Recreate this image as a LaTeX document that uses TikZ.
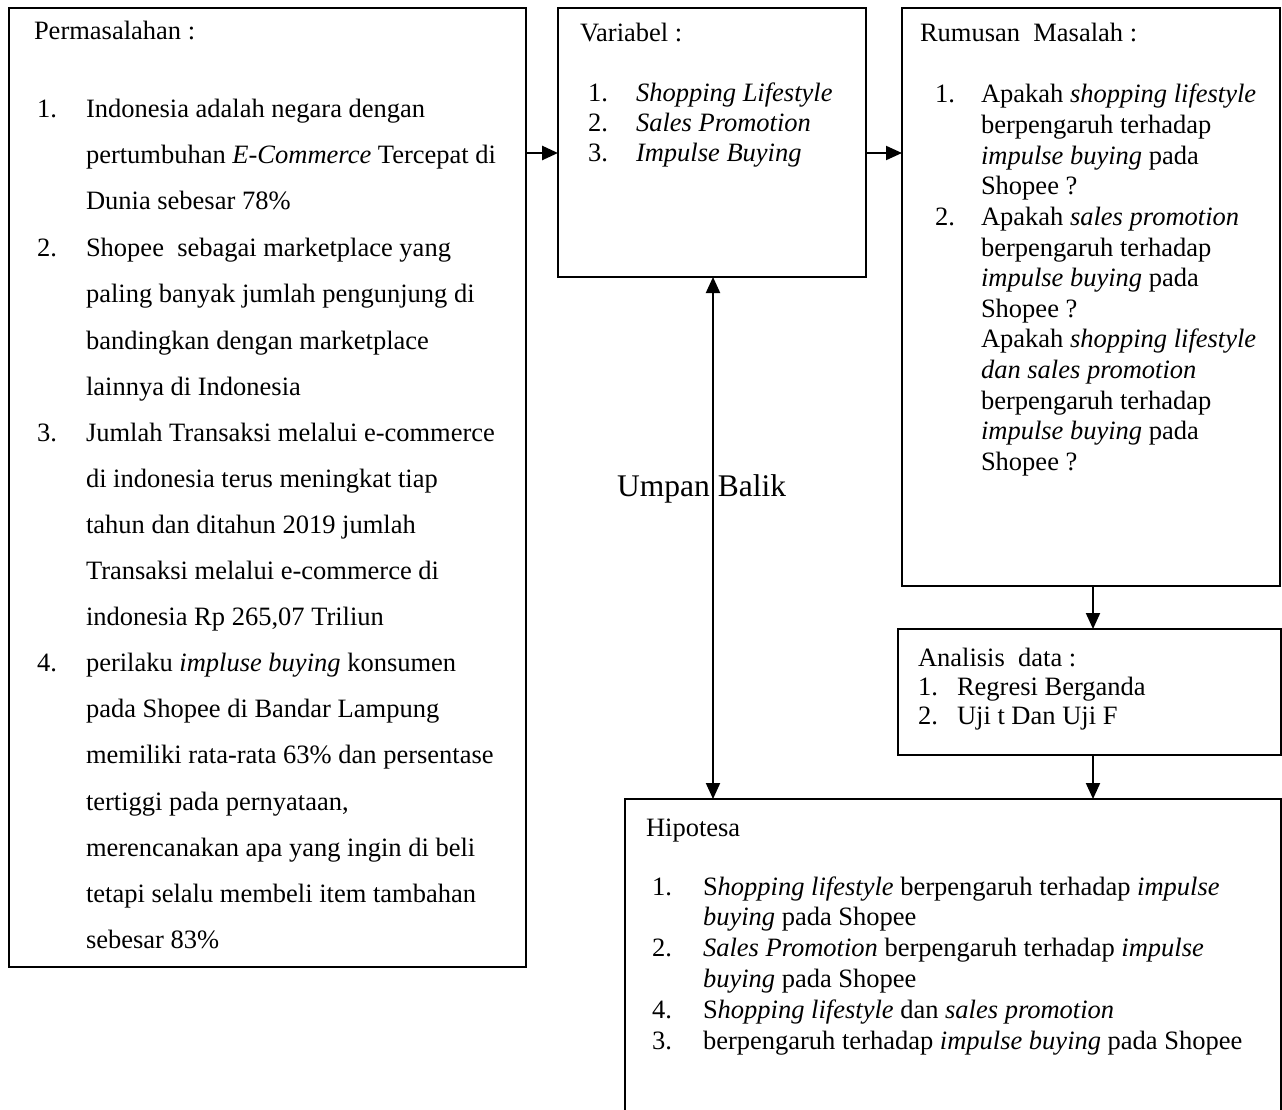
\documentclass[tikz,border=0pt]{standalone}
\usepackage{fontspec}
\setmainfont{Liberation Serif}
\usetikzlibrary{arrows.meta}
\begin{document}
\begin{tikzpicture}[x=1pt,y=-1pt,
  box/.style={draw=black, line width=1.6pt, rectangle, inner sep=0pt, outer sep=0pt},
  tx/.style={anchor=base west, inner sep=0pt, outer sep=0pt, font=\fontsize{26.5}{30}\selectfont},
  arr/.style={line width=2pt, -{Triangle[length=16pt,width=14pt]}},
  darr/.style={line width=2pt, {Triangle[length=16pt,width=14pt]}-{Triangle[length=16pt,width=14pt]}}]
\useasboundingbox (0,0) rectangle (1282,1110);
\fill[white] (0,0) rectangle (1282,1110);

% boxes
\node[box, minimum width=517pt, minimum height=959pt] (perm) at (267.5,487.5) {};
\node[box, minimum width=308pt, minimum height=269pt] (var) at (712,142.5) {};
\node[box, minimum width=378pt, minimum height=578pt] (rum) at (1091,297) {};
\node[box, minimum width=383pt, minimum height=126pt] (ana) at (1089.5,692) {};
\node[box, minimum width=656pt, minimum height=331pt] (hip) at (953,964.5) {};

% Permasalahan
\node[tx] (p0) at (34,40) {Permasalahan :};
\node[tx] (pn1) at (37,118) {1.};
\node[tx] (p1) at (86,118) {Indonesia adalah negara dengan};
\node[tx] (p2) at (86,164) {pertumbuhan \textit{E-Commerce} Tercepat di};
\node[tx] (p3) at (86,210) {Dunia sebesar 78\%};
\node[tx] (pn2) at (37,256) {2.};
\node[tx] (p4) at (86,256) {Shopee\ \ sebagai marketplace yang};
\node[tx] (p5) at (86,302) {paling banyak jumlah pengunjung di};
\node[tx] (p6) at (86,349) {bandingkan dengan marketplace};
\node[tx] (p7) at (86,395) {lainnya di Indonesia};
\node[tx] (pn3) at (37,441) {3.};
\node[tx] (p8) at (86,441) {Jumlah Transaksi melalui e-commerce};
\node[tx] (p9) at (86,487) {di indonesia terus meningkat tiap};
\node[tx] (p10) at (86,533) {tahun dan ditahun 2019 jumlah};
\node[tx] (p11) at (86,579) {Transaksi melalui e-commerce di};
\node[tx] (p12) at (86,625) {indonesia Rp 265,07 Triliun};
\node[tx] (pn4) at (37,671) {4.};
\node[tx] (p13) at (86,671) {perilaku \textit{impluse buying} konsumen};
\node[tx] (p14) at (86,717) {pada Shopee di Bandar Lampung};
\node[tx] (p15) at (86,763) {memiliki rata-rata 63\% dan persentase};
\node[tx] (p16) at (86,810) {tertiggi pada pernyataan,};
\node[tx] (p17) at (86,856) {merencanakan apa yang ingin di beli};
\node[tx] (p18) at (86,902) {tetapi selalu membeli item tambahan};
\node[tx] (p19) at (86,948) {sebesar 83\%};

% Variabel
\node[tx] (v0) at (580,42) {Variabel :};
\node[tx] (vn1) at (588,102) {1.};
\node[tx] (v1) at (636,102) {\textit{Shopping Lifestyle}};
\node[tx] (vn2) at (588,132) {2.};
\node[tx] (v2) at (636,132) {\textit{Sales Promotion}};
\node[tx] (vn3) at (588,162) {3.};
\node[tx] (v3) at (636,162) {\textit{Impulse Buying}};

% Rumusan Masalah
\node[tx] (r0) at (920,42) {Rumusan\ \ Masalah :};
\node[tx] (rn1) at (935,103) {1.};
\node[tx] (r1) at (981,103) {Apakah \textit{shopping lifestyle}};
\node[tx] (r2) at (981,133.6) {berpengaruh terhadap};
\node[tx] (r3) at (981,164.2) {\textit{impulse buying} pada};
\node[tx] (r4) at (981,194.8) {Shopee ?};
\node[tx] (rn2) at (935,225.4) {2.};
\node[tx] (r5) at (981,225.4) {Apakah \textit{sales promotion}};
\node[tx] (r6) at (981,256) {berpengaruh terhadap};
\node[tx] (r7) at (981,286.6) {\textit{impulse buying} pada};
\node[tx] (r8) at (981,317.2) {Shopee ?};
\node[tx] (r9) at (981,347.8) {Apakah \textit{shopping lifestyle}};
\node[tx] (r10) at (981,378.4) {\textit{dan sales promotion}};
\node[tx] (r11) at (981,409) {berpengaruh terhadap};
\node[tx] (r12) at (981,439.6) {\textit{impulse buying} pada};
\node[tx] (r13) at (981,470.2) {Shopee ?};

% Analisis data
\node[tx] (a0) at (918,666) {Analisis\ \ data :};
\node[tx] (an1) at (918,695) {1.};
\node[tx] (a1) at (957,695) {Regresi Berganda};
\node[tx] (an2) at (918,724) {2.};
\node[tx] (a2) at (957,724) {Uji t Dan Uji F};

% Hipotesa
\node[tx] (h0) at (646,836) {Hipotesa};
\node[tx] (hn1) at (652,895) {1.};
\node[tx] (h1) at (703,895) {S\textit{hopping lifestyle} berpengaruh terhadap \textit{impulse}};
\node[tx] (h2) at (703,925.8) {\textit{buying} pada Shopee};
\node[tx] (hn2) at (652,956.6) {2.};
\node[tx] (h3) at (703,956.6) {\textit{Sales Promotion} berpengaruh terhadap \textit{impulse}};
\node[tx] (h4) at (703,987.4) {\textit{buying} pada Shopee};
\node[tx] (hn3) at (652,1018.2) {4.};
\node[tx] (h5) at (703,1018.2) {S\textit{hopping lifestyle} dan \textit{sales promotion}};
\node[tx] (hn4) at (652,1049) {3.};
\node[tx] (h6) at (703,1049) {berpengaruh terhadap \textit{impulse buying} pada Shopee};

% Umpan Balik
\node[anchor=base west, inner sep=0pt, font=\fontsize{31.5}{36}\selectfont] (ub) at (617,496) {Umpan Balik};

% connectors
\draw[arr, line width=2.6pt] (perm.east |- 0,153) -- (var.west |- 0,153);
\draw[arr] (var.east |- 0,153) -- (rum.west |- 0,153);
\draw[arr] (rum.south -| 1093,0) -- (ana.north -| 1093,0);
\draw[arr] (ana.south -| 1093,0) -- (hip.north -| 1093,0);
\draw[darr] (var.south -| 713,0) -- (hip.north -| 713,0);
\end{tikzpicture}
\end{document}
